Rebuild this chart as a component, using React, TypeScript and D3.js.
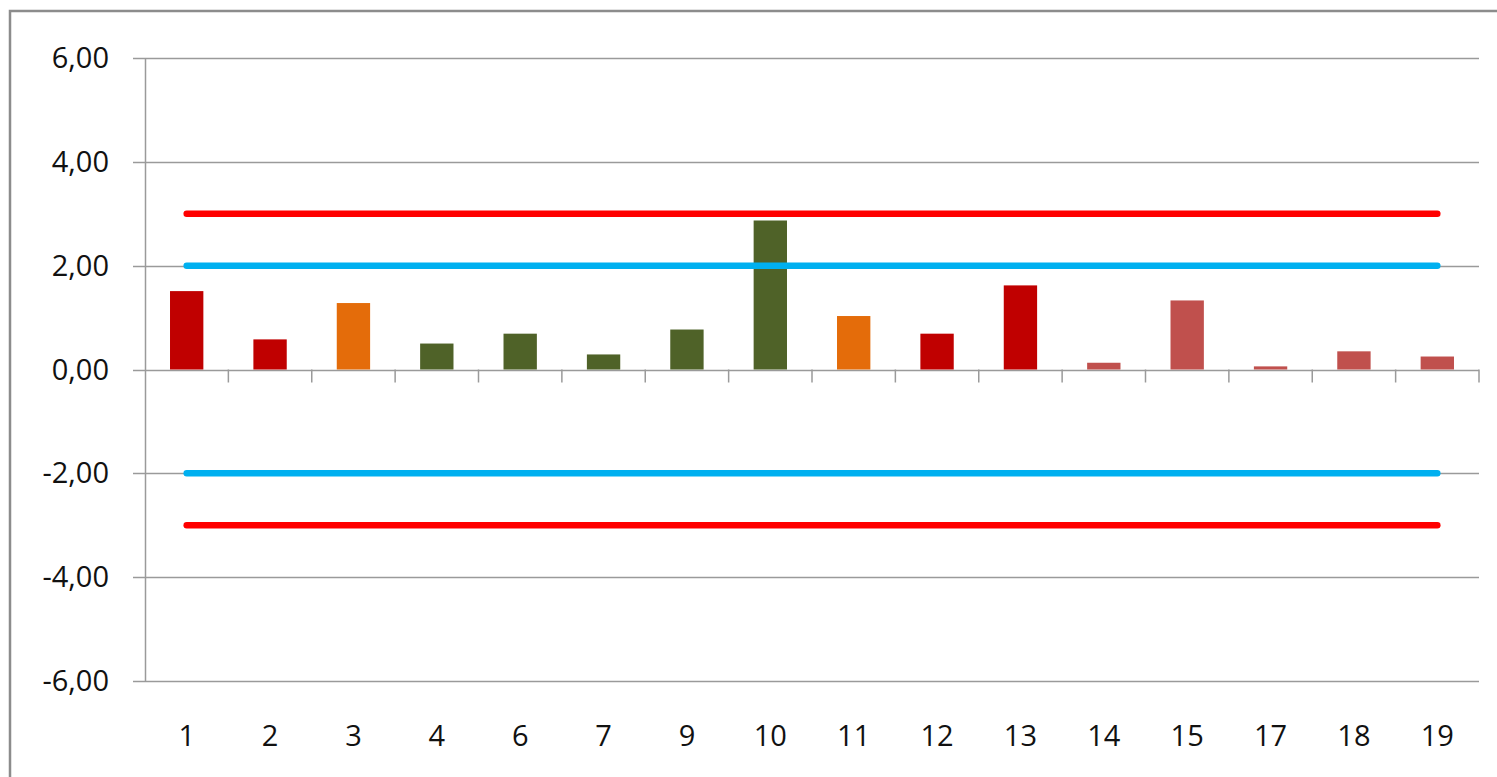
import React, { useRef, useEffect } from 'react';
import * as d3 from 'd3';

const categories = ['1', '2', '3', '4', '6', '7', '9', '10', '11', '12', '13', '14', '15', '17', '18', '19'];
const values = [1.51, 0.58, 1.28, 0.5, 0.69, 0.29, 0.77, 2.87, 1.03, 0.69, 1.62, 0.13, 1.33, 0.06, 0.35, 0.25];
const barColors = [
    '#C00000', '#C00000', '#E46C0A', '#4F6228', '#4F6228', '#4F6228', '#4F6228', '#4F6228',
    '#E46C0A', '#C00000', '#C00000', '#C0504D', '#C0504D', '#C0504D', '#C0504D', '#C0504D',
];
const yTicks = [-6, -4, -2, 0, 2, 4, 6];
const limitLines = [
    { value: 3, color: '#FF0000' },
    { value: 2, color: '#00B0F0' },
    { value: -2, color: '#00B0F0' },
    { value: -3, color: '#FF0000' },
];

const width = 1497;
const height = 777;
const margin = { left: 145, right: 18, top: 58, bottom: 96 };

const App: React.FC = () => {
    const ref = useRef<SVGSVGElement>(null);

    useEffect(() => {
        if (!ref.current) return;
        const svg = d3.select(ref.current);
        svg.selectAll('*').remove();

        const x = d3.scaleBand()
            .domain(categories)
            .range([margin.left, width - margin.right]);

        const y = d3.scaleLinear()
            .domain([-6, 6])
            .range([height - margin.bottom, margin.top]);

        const font = 'Open Sans, Noto Sans, sans-serif';

        // outer frame
        svg.append('path')
            .attr('d', `M10,${height} L10,11 L${width},11`)
            .attr('fill', 'none')
            .attr('stroke', '#8c8c8c')
            .attr('stroke-width', 2.5);

        // gridlines + y ticks
        svg.append('g')
            .selectAll('line')
            .data(yTicks)
            .enter()
            .append('line')
            .attr('x1', margin.left - 12)
            .attr('x2', width - margin.right)
            .attr('y1', d => Math.round(y(d)) + 0.5)
            .attr('y2', d => Math.round(y(d)) + 0.5)
            .attr('stroke', '#9a9a9a')
            .attr('stroke-width', 1.5);

        svg.append('g')
            .selectAll('text')
            .data(yTicks)
            .enter()
            .append('text')
            .attr('x', margin.left - 36)
            .attr('y', d => y(d))
            .attr('dy', '0.35em')
            .attr('text-anchor', 'end')
            .attr('font-family', font)
            .attr('font-size', 29)
            .attr('fill', '#111')
            .text(d => d3.format('.2f')(d).replace('.', ',').replace('−', '-'));

        // y axis line
        svg.append('line')
            .attr('x1', margin.left + 0.5)
            .attr('x2', margin.left + 0.5)
            .attr('y1', y(6))
            .attr('y2', y(-6))
            .attr('stroke', '#9a9a9a')
            .attr('stroke-width', 1.5);

        // category ticks on the zero line
        const catTicks = categories.map(c => x(c)! + x.bandwidth());
        svg.append('g')
            .selectAll('line')
            .data(catTicks)
            .enter()
            .append('line')
            .attr('x1', d => d)
            .attr('x2', d => d)
            .attr('y1', y(0))
            .attr('y2', y(0) + 13)
            .attr('stroke', '#9a9a9a')
            .attr('stroke-width', 1.5);

        // bars
        const barW = x.bandwidth() * 0.4;
        svg.append('g')
            .selectAll('rect')
            .data(values)
            .enter()
            .append('rect')
            .attr('x', (d, i) => x(categories[i])! + (x.bandwidth() - barW) / 2)
            .attr('y', d => y(d))
            .attr('width', barW)
            .attr('height', d => y(0) - y(d))
            .attr('fill', (d, i) => barColors[i]);

        // limit lines
        const x0 = x(categories[0])! + x.bandwidth() / 2;
        const x1 = x(categories[categories.length - 1])! + x.bandwidth() / 2;
        svg.append('g')
            .selectAll('line')
            .data(limitLines)
            .enter()
            .append('line')
            .attr('x1', x0)
            .attr('x2', x1)
            .attr('y1', d => y(d.value))
            .attr('y2', d => y(d.value))
            .attr('stroke', d => d.color)
            .attr('stroke-width', 6.5)
            .attr('stroke-linecap', 'round');

        // category labels
        svg.append('g')
            .selectAll('text')
            .data(categories)
            .enter()
            .append('text')
            .attr('x', d => x(d)! + x.bandwidth() / 2)
            .attr('y', height - margin.bottom + 55)
            .attr('dy', '0.35em')
            .attr('text-anchor', 'middle')
            .attr('font-family', font)
            .attr('font-size', 29)
            .attr('fill', '#111')
            .text(d => d);
    }, []);

    return (
        <svg
            ref={ref}
            width={width}
            height={height}
            style={{ position: 'absolute', left: 0, top: 0, background: '#fff' }}
        />
    );
};

export default App;
